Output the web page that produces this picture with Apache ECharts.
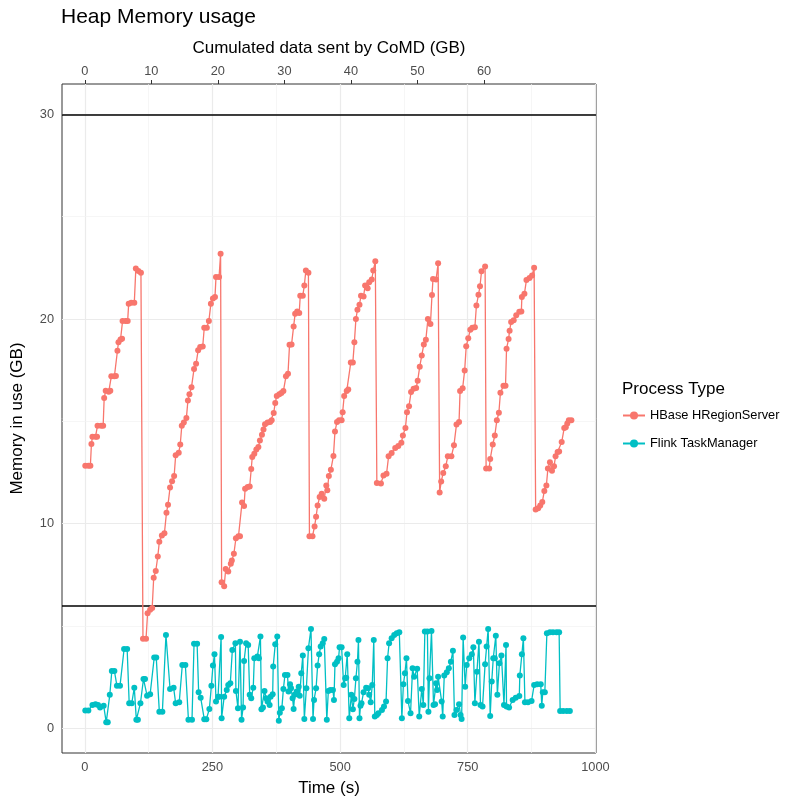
<!DOCTYPE html>
<html>
<head>
<meta charset="utf-8">
<script src="https://cdn.jsdelivr.net/npm/echarts@6/dist/echarts.min.js"></script>
<style>
  html, body { margin: 0; padding: 0; background: #fff; }
  #chart { width: 797px; height: 803px; }
</style>
</head>
<body>
<div id="chart"></div>
<script>
// Heap memory samples (time in seconds, memory in GB)
const hbaseTime = [1,7,11,13,15,21,24,25,32,36,38,41,47,50,52,58,61,64,66,70,73,74,80,84,86,91,97,100,105,110,
  114,120,123,128,132,135,139,143,146,151,156,160,163,167,171,175,178,184,187,190,194,199,202,205,209,214,218,222,226,231,234,239,243,247,251,255,257,263,266,
  268,273,276,281,286,288,292,296,301,304,308,312,314,319,323,326,328,332,336,340,343,347,350,353,358,363,366,370,373,376,381,385,389,394,398,401,405,409,412,416,420,422,427,430,433,438,
  440,446,450,453,456,460,464,469,473,475,478,482,487,490,494,498,503,505,508,513,516,521,525,528,531,534,538,541,546,549,554,557,562,565,569,
  572,580,585,591,595,601,608,614,620,623,628,631,635,639,644,649,652,656,660,664,668,672,677,680,682,688,692,
  695,698,702,707,711,718,723,728,733,735,740,744,747,751,755,759,764,767,771,774,777,784,
  786,792,794,799,803,807,811,814,820,824,826,830,832,835,840,845,851,855,856,861,865,871,876,880,
  883,888,892,896,900,904,907,911,915,919,922,926,929,934,939,942,945,948,953];
const hbaseMem = [12.83,12.83,12.83,13.89,14.25,14.25,14.25,14.79,14.79,14.79,16.14,16.5,16.45,16.5,17.2,17.2,17.22,18.45,18.87,19.0,19.03,19.9,19.9,19.9,20.75,20.8,20.8,22.47,22.34,22.26,
  4.38,4.38,5.63,5.8,5.88,7.36,7.69,8.4,9.12,9.43,9.54,10.54,10.93,11.77,12.08,12.33,13.34,13.47,13.87,14.79,14.94,15.16,16.02,16.33,16.67,17.56,17.81,18.47,18.63,18.66,19.57,19.57,19.9,20.75,21.0,21.07,22.05,22.05,23.19,
  7.14,6.94,7.79,7.67,8.04,8.2,8.53,9.29,9.39,9.39,11.04,10.86,11.71,11.79,11.82,12.67,13.26,13.42,13.62,13.75,14.07,14.35,14.6,14.86,14.94,14.97,15.05,15.41,15.9,16.24,16.33,16.38,16.48,17.2,17.33,18.74,18.76,19.64,20.26,20.37,20.29,21.14,21.14,21.64,22.37,22.26,
  9.39,9.39,9.87,10.34,10.89,11.3,11.47,11.22,11.87,11.63,12.33,12.64,13.31,14.51,14.97,15.05,15.05,15.44,16.24,16.48,16.56,17.88,17.88,18.86,20.0,20.45,20.7,21.14,21.1,21.64,21.5,21.8,21.93,22.37,22.82,
  11.99,11.97,12.36,12.44,13.29,13.45,13.7,13.8,13.96,14.31,14.68,15.45,15.74,16.43,16.59,16.63,16.99,17.67,18.22,18.76,18.99,20.0,19.76,21.17,21.96,21.93,22.72,
  11.53,12.06,12.48,12.81,13.29,13.29,13.83,14.85,14.97,16.48,16.62,17.49,18.67,19.06,19.47,19.57,19.6,20.66,21.18,21.6,22.33,22.57,
  12.7,12.7,13.16,13.87,14.31,15.05,15.42,16.4,16.74,16.74,18.55,19.02,19.43,19.86,19.94,20.18,20.35,20.37,21.07,21.23,21.91,22.0,22.13,22.51,
  10.7,10.76,10.89,11.06,11.6,11.87,12.7,13.0,12.59,12.81,13.29,13.5,13.53,13.99,14.68,14.71,14.9,15.05,15.05];

const flinkTime = [1,7,15,21,26,30,37,42,45,49,53,58,63,69,77,83,87,92,97,101,104,109,115,118,122,128,136,140,146,152,159,167,174,178,185,191,197,203,210,214,220,223,227,234,238,244,248,251,254,257,261,263,267,268,273,278,281,285,289,295,296,300,
  304,307,310,312,316,320,323,326,330,332,338,341,344,346,349,352,355,358,362,364,368,369,373,377,380,382,386,389,392,397,399,402,404,407,409,411,415,419,421,424,427,430,434,438,443,447,449,453,456,459,462,466,469,474,477,481,486,488,490,494,497,499,503,507,510,512,514,518,522,525,528,531,534,536,538,540,542,546,551,555,557,560,563,566,568,572,575,582,586,590,593,596,601,606,611,616,621,624,627,630,633,638,642,645,
  651,655,660,663,666,671,673,675,679,683,686,688,690,692,699,701,704,709,713,717,721,724,728,733,736,738,741,745,748,753,758,761,764,768,772,775,779,784,787,790,794,797,800,803,805,808,812,816,821,825,826,831,838,844,851,852,856,859,862,868,875,880,886,893,895,897,901,905,911,917,924,929,931,937,944,950];
const flinkMem = [0.87,0.87,1.15,1.18,1.15,1.02,1.11,0.30,0.30,1.64,2.81,2.81,2.08,2.08,3.88,3.88,1.23,1.23,1.99,0.42,0.42,1.23,2.42,2.42,1.6,1.67,3.46,3.46,0.82,0.82,4.57,1.93,1.99,1.23,1.28,3.10,3.10,0.42,0.42,4.14,4.14,1.77,1.50,0.45,0.45,0.95,2.09,3.07,3.62,1.31,1.55,1.55,4.47,0.50,1.55,1.88,2.12,2.21,3.83,4.16,1.83,0.99,
  4.24,0.42,1.02,3.30,4.16,4.08,1.64,1.48,1.99,3.43,3.51,3.43,4.49,0.94,1.02,1.83,1.48,1.31,1.15,1.55,1.67,3.02,4.11,4.49,0.37,0.77,0.99,1.93,2.61,2.61,1.80,2.16,1.96,1.48,0.95,1.64,1.80,2.04,1.60,2.70,3.56,0.46,1.96,3.92,4.86,0.46,1.39,1.96,3.07,3.62,4.00,4.16,4.37,0.42,1.83,1.88,1.88,1.39,3.14,3.26,3.43,3.97,3.97,2.12,2.45,2.48,3.62,0.50,1.64,0.94,1.44,2.45,3.26,4.32,0.50,1.11,1.23,1.77,1.99,1.96,1.64,1.28,2.12,4.32,0.58,0.66,0.74,0.90,1.07,1.31,3.43,4.16,4.41,4.57,4.65,4.70,0.50,2.16,2.70,3.43,1.34,0.74,2.94,2.53,
  2.91,0.58,1.93,1.15,4.73,4.73,0.82,2.45,4.76,1.15,1.18,2.21,1.88,2.53,1.31,0.58,2.58,2.75,2.94,3.26,3.80,0.66,0.90,1.18,0.66,0.46,4.44,2.04,3.10,3.43,3.62,3.97,1.23,2.77,4.24,1.15,1.07,3.14,4.00,4.86,0.61,2.29,3.43,3.43,4.53,1.64,3.18,3.56,1.15,4.08,1.07,1.02,1.39,1.50,1.59,2.58,3.62,4.41,1.28,1.28,1.34,2.12,2.16,2.16,1.11,1.77,1.77,4.65,4.70,4.70,4.70,4.70,0.85,0.85,0.85,0.85];

// Axis breaks and reference lines
const timeBreaks = [0, 250, 500, 750, 1000];
const timeMinorBreaks = [125, 375, 625, 875];
const memBreaks = [0, 10, 20, 30];
const memMinorBreaks = [5, 15, 25];
const dataSentBreaks = [0, 10, 20, 30, 40, 50, 60];
const thresholdLines = [30, 6];

// Cumulated GB sent per second of run time (secondary axis scale)
const gbPerSecond = 0.07674;
const timeMin = -44.6, timeMax = 1001.2;
const memMin = -1.2, memMax = 31.48;

const FONT = '"Liberation Sans", Arial, sans-serif';
const AXIS_TEXT = { fontFamily: FONT, fontSize: 12.8, color: '#4D4D4D' };
const AXIS_TITLE = { fontFamily: FONT, fontSize: 17, color: '#000' };
const zip = (a, b) => a.map((v, i) => [v, b[i]]);
const plainNumber = v => String(v);

const gridLines = []
  .concat(timeBreaks.map(v => ({ xAxis: v, lineStyle: { color: '#EBEBEB', width: 1.2, type: 'solid' } })))
  .concat(timeMinorBreaks.map(v => ({ xAxis: v, lineStyle: { color: '#F2F2F2', width: 0.7, type: 'solid' } })))
  .concat(memBreaks.map(v => ({ yAxis: v, lineStyle: { color: '#EBEBEB', width: 1.2, type: 'solid' } })))
  .concat(memMinorBreaks.map(v => ({ yAxis: v, lineStyle: { color: '#F2F2F2', width: 0.7, type: 'solid' } })));

const pointStyle = color => ({
  type: 'line', xAxisIndex: 0, z: 3,
  symbol: 'circle', symbolSize: 6, showAllSymbol: true,
  itemStyle: { color: color, borderWidth: 0, opacity: 1 },
  lineStyle: { color: color, width: 1.3 },
  emphasis: { disabled: true }
});

const chart = echarts.init(document.getElementById('chart'), null, { renderer: 'canvas' });
chart.setOption({
  animation: false,
  backgroundColor: '#ffffff',
  textStyle: { fontFamily: FONT },
  title: [
    { text: 'Heap Memory usage', left: 56, top: 2,
      textStyle: { fontFamily: FONT, fontSize: 21, fontWeight: 'normal', color: '#000' } },
    { text: 'Process Type', left: 617, top: 376,
      textStyle: { fontFamily: FONT, fontSize: 17, fontWeight: 'normal', color: '#000' } }
  ],
  legend: {
    orient: 'vertical', left: 617, top: 404,
    itemWidth: 22, itemHeight: 10, itemGap: 15,
    data: ['HBase HRegionServer', 'Flink TaskManager'],
    textStyle: { fontFamily: FONT, fontSize: 12.8, color: '#000' }
  },
  grid: {
    left: 62, right: 201, top: 84, bottom: 50,
    show: true, borderColor: '#333333', borderWidth: 1, backgroundColor: '#ffffff'
  },
  xAxis: [
    {
      type: 'value', position: 'bottom', min: timeMin, max: timeMax,
      name: 'Time (s)', nameLocation: 'middle', nameGap: 27,
      nameTextStyle: AXIS_TITLE,
      axisLine: { show: false },
      axisTick: { show: true, length: 4, customValues: timeBreaks, lineStyle: { color: '#333' } },
      axisLabel: Object.assign({ customValues: timeBreaks, formatter: plainNumber, margin: 8 }, AXIS_TEXT),
      splitLine: { show: false }
    },
    {
      type: 'value', position: 'top', min: timeMin * gbPerSecond, max: timeMax * gbPerSecond,
      name: 'Cumulated data sent by CoMD (GB)', nameLocation: 'middle', nameGap: 27.5,
      nameTextStyle: AXIS_TITLE,
      axisLine: { show: false },
      axisTick: { show: true, length: 4, customValues: dataSentBreaks, lineStyle: { color: '#333' } },
      axisLabel: Object.assign({ customValues: dataSentBreaks, formatter: plainNumber, margin: 6 }, AXIS_TEXT),
      splitLine: { show: false }
    }
  ],
  yAxis: {
    type: 'value', min: memMin, max: memMax,
    name: 'Memory in use (GB)', nameLocation: 'middle', nameGap: 36,
    nameTextStyle: AXIS_TITLE,
    axisLine: { show: false },
    axisTick: { show: true, length: 4, customValues: memBreaks, lineStyle: { color: '#333' } },
    axisLabel: Object.assign({ customValues: memBreaks, formatter: plainNumber, margin: 8 }, AXIS_TEXT),
    splitLine: { show: false }
  },
  series: [
    {
      // panel grid lines and threshold lines, kept beneath the data
      name: 'grid', type: 'line', xAxisIndex: 0, z: 1,
      data: [[0, 0]], symbol: 'none', lineStyle: { opacity: 0 }, silent: true,
      markLine: {
        z: 1, silent: true, symbol: ['none', 'none'], label: { show: false }, animation: false,
        data: gridLines.concat(thresholdLines.map(v => ({ yAxis: v, lineStyle: { color: '#000', width: 1.5, type: 'solid' } })))
      }
    },
    Object.assign({ name: 'HBase HRegionServer', data: zip(hbaseTime, hbaseMem) }, pointStyle('#F8766D')),
    Object.assign({ name: 'Flink TaskManager', data: zip(flinkTime, flinkMem) }, pointStyle('#00BFC4'))
  ]
});
</script>
</body>
</html>
